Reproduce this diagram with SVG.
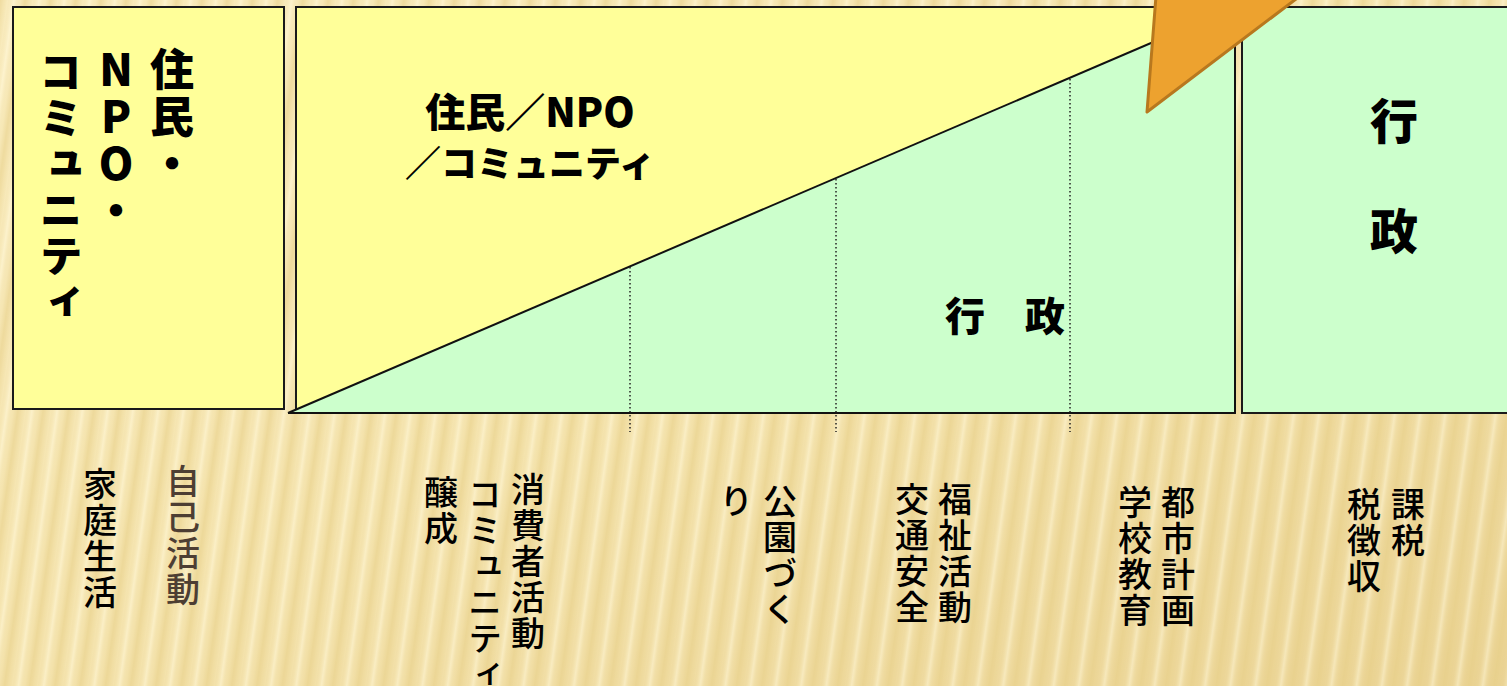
<svg xmlns="http://www.w3.org/2000/svg" width="1507" height="686" viewBox="0 0 1507 686">
<style>
.box{stroke:#1a1a1a;stroke-width:2}
.yel{fill:#FFFF99}
.grn{fill:#CCFFCC}
.dot{stroke:#222;stroke-width:1.5;stroke-dasharray:1.5 2.5;fill:none}
.v{writing-mode:vertical-rl;text-orientation:upright}
.bold{font-family:"Noto Sans CJK JP","Liberation Sans",sans-serif;font-weight:900;fill:#000}
.reg{font-family:"Noto Sans CJK JP","Liberation Sans",sans-serif;font-weight:500;font-size:34px;letter-spacing:2px;fill:#000}
</style>
<defs>
<linearGradient id="bg" x1="0" y1="0" x2="1" y2="1">
<stop offset="0" stop-color="#FCF0C6"/>
<stop offset="0.5" stop-color="#F7E7B4"/>
<stop offset="1" stop-color="#EBD496"/>
</linearGradient>
<linearGradient id="stripe" x1="0" y1="0" x2="1" y2="0">
<stop offset="0" stop-color="#E6CE86" stop-opacity="0.6"/>
<stop offset="0.3" stop-color="#E6CE86" stop-opacity="0.15"/>
<stop offset="0.55" stop-color="#FFF8DA" stop-opacity="0.5"/>
<stop offset="0.8" stop-color="#E6CE86" stop-opacity="0.2"/>
<stop offset="1" stop-color="#E6CE86" stop-opacity="0.6"/>
</linearGradient>
<pattern id="stripes" width="25" height="200" patternUnits="userSpaceOnUse" patternTransform="rotate(8)">
<rect width="25" height="200" fill="url(#stripe)"/>
</pattern>
</defs>
<rect width="1507" height="686" fill="url(#bg)"/>
<rect width="1507" height="686" fill="url(#stripes)"/>

<g id="left-box">
<rect class="box yel" x="13" y="7" width="271" height="402"/>
<text class="v bold" x="172" y="47" font-size="44" letter-spacing="3">住民・</text>
<text class="v bold" x="116" y="47" font-size="44" letter-spacing="3">NPO・</text>
<text class="v bold" x="61" y="50" font-size="43" letter-spacing="3">コミュニティ</text>
</g>

<g id="middle-box">
<rect class="box yel" x="296" y="7" width="939" height="406"/>
<polygon class="grn" points="288,413 1235,7 1235,413"/>
<line x1="288" y1="413" x2="1235" y2="7" stroke="#111" stroke-width="2"/>
<line x1="288" y1="413" x2="1235" y2="413" stroke="#111" stroke-width="2"/>
<line x1="1235" y1="7" x2="1235" y2="413" stroke="#111" stroke-width="2"/>
<text class="bold" x="530" y="127" font-size="40" text-anchor="middle">住民／NPO</text>
<text class="bold" x="530" y="177" font-size="36" text-anchor="middle">／コミュニティ</text>
<text class="bold" x="1005" y="331" font-size="40" text-anchor="middle">行　政</text>
</g>

<g id="right-box">
<rect class="box grn" x="1242" y="7" width="280" height="406"/>
<text class="bold" x="1394" y="139" font-size="48" text-anchor="middle">行</text>
<text class="bold" x="1394" y="249" font-size="48" text-anchor="middle">政</text>
</g>

<g id="connectors">
<line class="dot" x1="630" y1="267" x2="630" y2="432"/>
<line class="dot" x1="836" y1="179" x2="836" y2="432"/>
<line class="dot" x1="1070" y1="79" x2="1070" y2="432"/>
</g>

<g id="arrow">
<polygon points="1147,112 1156,-4 1300,-4" fill="#EDA22F" stroke="#B8781E" stroke-width="3" stroke-linejoin="round"/>
</g>

<g id="labels">
<text class="v reg" x="100" y="467">家庭生活</text>
<text class="v reg" x="183" y="464" style="fill:#4D3E33">自己活動</text>
<text class="v reg" x="528" y="472">消費者活動</text>
<text class="v reg" x="485" y="477">コミュニティ</text>
<text class="v reg" x="441" y="475">醸成</text>
<text class="v reg" x="780" y="484">公園づく</text>
<text class="v reg" x="736" y="484">り</text>
<text class="v reg" x="955" y="482">福祉活動</text>
<text class="v reg" x="912" y="482">交通安全</text>
<text class="v reg" x="1178" y="485">都市計画</text>
<text class="v reg" x="1135" y="485">学校教育</text>
<text class="v reg" x="1408" y="487">課税</text>
<text class="v reg" x="1364" y="487">税徴収</text>
</g>
</svg>
